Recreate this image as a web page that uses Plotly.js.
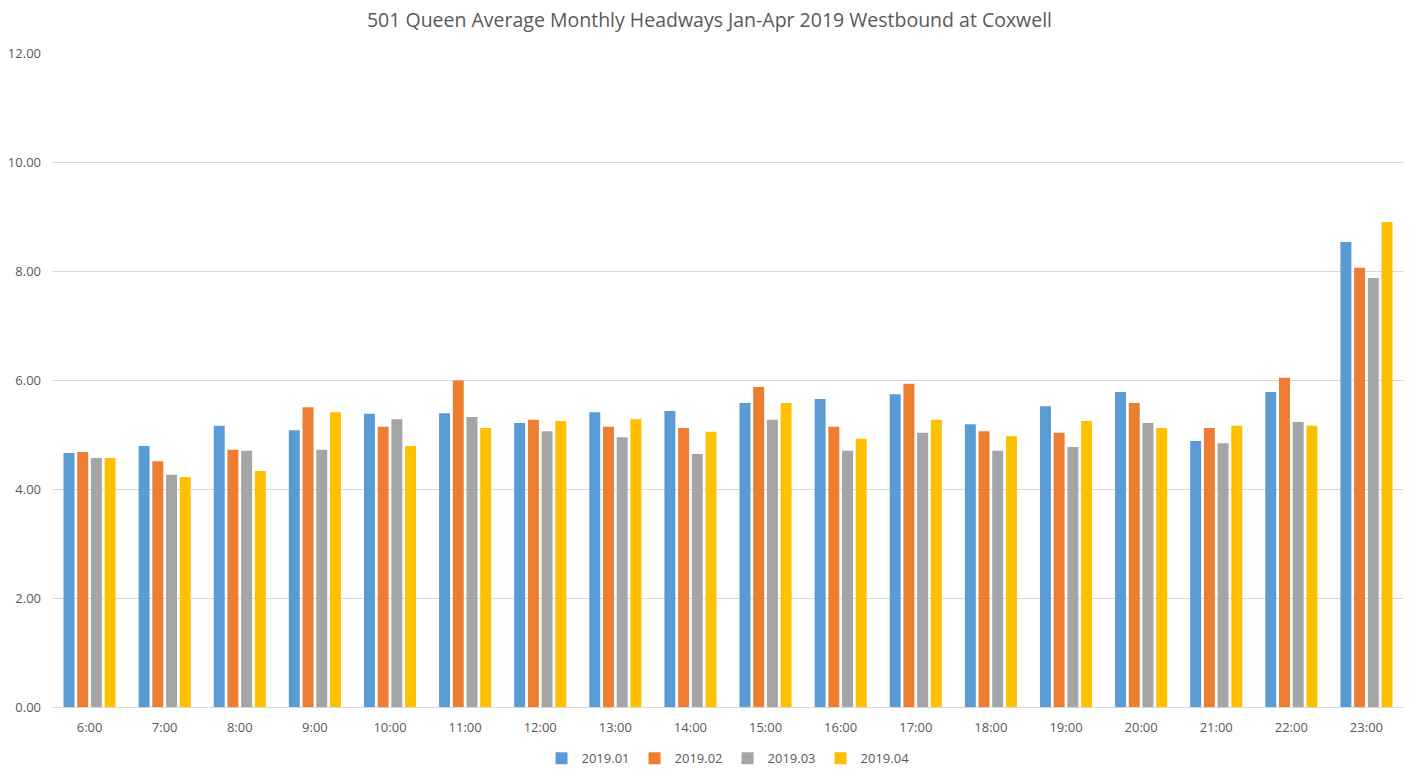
<!DOCTYPE html>
<html>
<head>
<meta charset="utf-8">
<script src="https://cdn.plot.ly/plotly-3.0.1.min.js"></script>
<style>html,body{margin:0;padding:0;background:#fff;}#chart{width:1419px;height:781px;}</style>
</head>
<body>
<div id="chart"></div>
<script>
const hours = ["6:00","7:00","8:00","9:00","10:00","11:00","12:00","13:00","14:00","15:00","16:00","17:00","18:00","19:00","20:00","21:00","22:00","23:00"];
const jan = [4.66,4.79,5.16,5.08,5.38,5.39,5.21,5.41,5.43,5.58,5.65,5.74,5.19,5.52,5.78,4.88,5.78,8.53];
const feb = [4.68,4.51,4.72,5.50,5.14,5.99,5.27,5.14,5.12,5.87,5.14,5.93,5.06,5.03,5.58,5.12,6.04,8.06];
const mar = [4.57,4.26,4.70,4.72,5.28,5.32,5.06,4.95,4.64,5.27,4.70,5.03,4.70,4.77,5.21,4.84,5.23,7.87];
const apr = [4.57,4.22,4.33,5.41,4.79,5.12,5.25,5.28,5.05,5.58,4.92,5.27,4.97,5.25,5.12,5.16,5.16,8.90];
const seriesNames = ["2019.01","2019.02","2019.03","2019.04"];
const colors = ["#5B9BD5","#ED7D31","#A5A5A5","#FFC000"];
const values = [jan, feb, mar, apr];

const traces = values.map((v,i)=>({
  type:'bar', x:hours, y:v, name:seriesNames[i],
  marker:{color:colors[i]}, hoverinfo:'x+y+name'
}));

const layout = {
  width:1419, height:781,
  margin:{l:52, r:15, t:53, b:74, autoexpand:false},
  paper_bgcolor:'#fff', plot_bgcolor:'#fff',
  font:{family:'"Open Sans", "Liberation Sans", sans-serif', color:'#595959', size:13},
  title:{text:'501 Queen Average Monthly Headways Jan-Apr 2019 Westbound at Coxwell',
         font:{size:19.5, color:'#595959', family:'"Open Sans", "Liberation Sans", sans-serif'},
         x:0.5, xanchor:'center', y:0.974, yanchor:'middle'},
  barmode:'group', bargap:0.27, bargroupgap:0.2,
  xaxis:{type:'category', showgrid:false, showline:true, linecolor:'#d9d9d9', linewidth:1,
         ticks:'', tickfont:{size:13, color:'#595959'}, zeroline:false, ticklabelstandoff:8},
  yaxis:{range:[0,12], tickvals:[0,2,4,6,8,10,12], tickformat:'.2f',
         showgrid:true, gridcolor:'#d9d9d9', gridwidth:1, zeroline:false,
         showline:false, ticks:'', tickfont:{size:13, color:'#595959'}, ticklabelstandoff:10},
  legend:{orientation:'h', x:0.5, xanchor:'center', yref:'container', y:0.029, yanchor:'middle',
          font:{size:13, color:'#595959'}, itemwidth:30, traceorder:'normal'},
  showlegend:true
};

Plotly.newPlot('chart', traces, layout, {displayModeBar:false, staticPlot:true});
</script>
</body>
</html>
